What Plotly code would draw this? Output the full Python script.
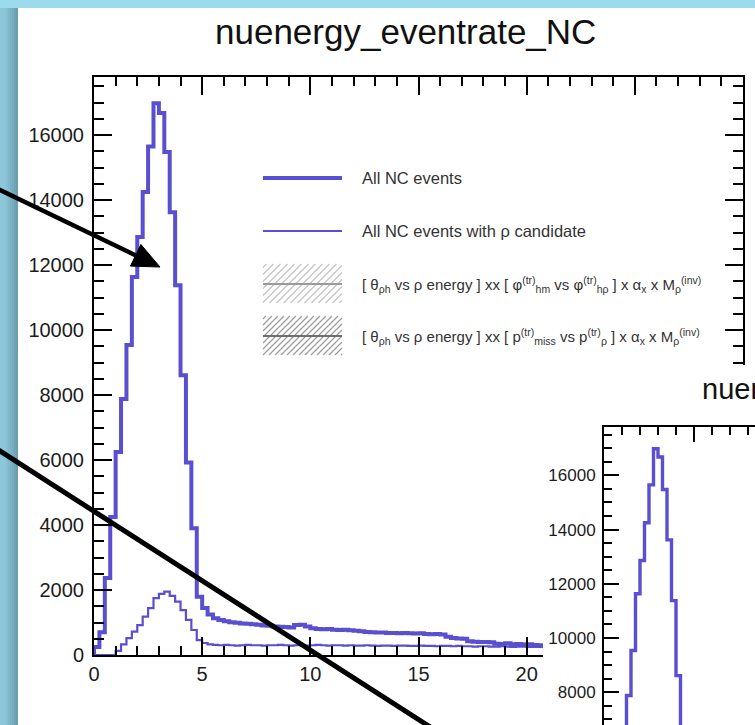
import plotly.graph_objects as go

# Canvas size in pixels; shapes/annotations are placed with pixel helpers.
W, H = 755, 725


def fx(x):
    return x / W


def fy(y):
    return 1 - y / H


# ---------------------------------------------------------------- data
title_text = "nuenergy_eventrate_NC"
bin_width = 0.25  # GeV per bin, histogram starts at 0

# All NC events (bin contents, bins of 0.25 starting at 0)
all_nc = [
    250, 700, 2370, 4250, 6250, 7880, 9540, 11630, 12860, 14250,
    15650, 16980, 16680, 15480, 13620, 11380, 8610, 5920, 3900, 1790,
    1450, 1250, 1130, 1080, 1040, 1010, 990, 970, 960, 950,
    930, 910, 900, 880, 870, 860, 850, 920, 930, 880,
    820, 800, 790, 800, 780, 770, 780, 760, 750, 730,
    710, 700, 690, 690, 680, 680, 670, 680, 670, 660,
    670, 650, 640, 650, 630, 560, 520, 510, 500, 420,
    410, 400, 400, 390, 350, 340, 360, 330, 340, 320,
    330, 310, 300, 300, 290,
]

# All NC events with a rho candidate
all_nc_rho = [
    0, 0, 0, 0, 130, 330, 520, 720, 920, 1180,
    1440, 1750, 1880, 1950, 1820, 1640, 1380, 1080, 770, 460,
    370, 330, 310, 300, 310, 300, 290, 300, 310, 300,
    300, 290, 300, 300, 310, 300, 290, 300, 300, 290,
    300, 310, 300, 290, 300, 300, 290, 300, 290, 290,
    300, 290, 280, 290, 290, 280, 290, 290, 280, 280,
    290, 280, 280, 270, 280, 280, 270, 280, 270, 270,
    260, 270, 270, 260, 260, 270, 260, 250, 260, 260,
    250, 250, 250, 240, 240,
]

x_ticks = [0, 5, 10, 15, 20, 25, 30]
x_ticklabels = ["0", "5", "10", "15", "20", "25", "30"]
y_ticks = [0, 2000, 4000, 6000, 8000, 10000, 12000, 14000, 16000]
y_ticklabels = ["0", "2000", "4000", "6000", "8000", "10000", "12000", "14000", "16000"]

legend_labels = [
    "All NC events",
    "All NC events with ρ candidate",
    "[ θ<sub>ρh</sub> vs ρ energy ] xx [ φ<sup>(tr)</sup><sub>hm</sub> vs "
    "φ<sup>(tr)</sup><sub>hρ</sub> ] x α<sub>x</sub> x M<sub>ρ</sub><sup>(inv)</sup>",
    "[ θ<sub>ρh</sub> vs ρ energy ] xx [ p<sup>(tr)</sup><sub>miss</sub> vs "
    "p<sup>(tr)</sup><sub>ρ</sub> ] x α<sub>x</sub> x M<sub>ρ</sub><sup>(inv)</sup>",
]
legend_sizes = [16.5, 16.5, 15, 15]

# ---------------------------------------------------------------- style
HIST_COLOR = "#5a4fd0"
FONT = "Liberation Sans, Arial, sans-serif"
TEXT = "#1c1c1c"


def step_xy(vals):
    xs = [0.0] + [i * bin_width for i in range(len(vals) + 1)]
    ys = [0.0] + list(vals) + [vals[-1]]
    return xs, ys


fig = go.Figure()

# main pad histograms
for vals, width in ((all_nc, 4), (all_nc_rho, 2.2)):
    xs, ys = step_xy(vals)
    fig.add_trace(go.Scatter(x=xs, y=ys, mode="lines", line=dict(color=HIST_COLOR, width=width, shape="hv"),
                             xaxis="x", yaxis="y", hoverinfo="skip"))

# blank pad that carries the white backing of the second canvas
fig.add_trace(go.Scatter(x=[], y=[], xaxis="x2", yaxis="y2", hoverinfo="skip"))

# second canvas histograms
for vals, width in ((all_nc, 3.4), (all_nc_rho, 1.8)):
    xs, ys = step_xy(vals)
    fig.add_trace(go.Scatter(x=xs, y=ys, mode="lines", line=dict(color=HIST_COLOR, width=width, shape="hv"),
                             xaxis="x3", yaxis="y3", hoverinfo="skip"))


def axis_common(ticklen, size, standoff):
    return dict(showline=True, linecolor="black", linewidth=2, ticks="inside", ticklen=ticklen,
                tickwidth=2, tickcolor="black", showgrid=False, zeroline=False, automargin=False,
                tickfont=dict(family=FONT, size=size, color=TEXT), ticklabelstandoff=standoff)


main_x = axis_common(18, 20, 0)
main_x.update(domain=[fx(94), fx(743)], range=[0, 30], anchor="y", mirror="ticks",
              tickmode="array", tickvals=x_ticks, ticktext=x_ticklabels,
              minor=dict(dtick=1, tick0=0, ticklen=9, tickwidth=2, tickcolor="black", ticks="inside"))
main_y = axis_common(18, 20, 4)
main_y.update(domain=[fy(655), fy(77)], range=[0, 17785], anchor="x", mirror="ticks",
              tickmode="array", tickvals=y_ticks, ticktext=y_ticklabels,
              minor=dict(dtick=500, tick0=0, ticklen=10, tickwidth=2, tickcolor="black", ticks="inside"))

inset_x = axis_common(15, 17, 3)
inset_x.update(domain=[fx(604), 1], range=[0, 151 / 18.0], anchor="y3", side="top",
               showticklabels=False, tickmode="array", tickvals=x_ticks,
               minor=dict(dtick=1, tick0=0, ticklen=8, tickwidth=2, tickcolor="black", ticks="inside"))
inset_y = axis_common(15, 17, 3)
inset_y.update(domain=[0, fy(427)], range=[6789, 17785], anchor="x3",
               tickmode="array", tickvals=y_ticks, ticktext=y_ticklabels,
               minor=dict(dtick=500, tick0=0, ticklen=8, tickwidth=2, tickcolor="black", ticks="inside"))

fig.update_layout(
    width=W, height=H, autosize=False, margin=dict(l=0, r=0, t=0, b=0, pad=0, autoexpand=False),
    paper_bgcolor="#9cdaed", plot_bgcolor="white", showlegend=False,
    xaxis=main_x, yaxis=main_y,
    xaxis2=dict(domain=[fx(543), 1], range=[0, 1], anchor="y2", visible=False, automargin=False),
    yaxis2=dict(domain=[0, fy(365)], range=[0, 1], anchor="x2", visible=False, automargin=False),
    xaxis3=inset_x, yaxis3=inset_y,
)

shapes = []
# slide page and its left shadow
shapes.append(dict(type="rect", xref="paper", yref="paper", x0=0, x1=fx(18), y0=0, y1=fy(8),
                   fillcolor="#8cc6d8", line=dict(width=0), layer="below"))
for i, a in enumerate([0.05, 0.1, 0.16, 0.22, 0.28, 0.34]):
    shapes.append(dict(type="rect", xref="paper", yref="paper", x0=fx(6 + 2 * i), x1=fx(8 + 2 * i),
                       y0=0, y1=fy(8), fillcolor=f"rgba(40,80,100,{a})", line=dict(width=0), layer="below"))
shapes.append(dict(type="rect", xref="paper", yref="paper", x0=fx(18), x1=1, y0=0, y1=fy(8),
                   fillcolor="white", line=dict(width=0), layer="below"))

# legend samples
LX0, LX1, LTX = 263, 342, 360
rows = [178, 231, 284, 336]
shapes.append(dict(type="line", xref="paper", yref="paper", x0=fx(LX0), x1=fx(LX1), y0=fy(rows[0]), y1=fy(rows[0]),
                   line=dict(color=HIST_COLOR, width=4), layer="above"))
shapes.append(dict(type="line", xref="paper", yref="paper", x0=fx(LX0), x1=fx(LX1), y0=fy(rows[1]), y1=fy(rows[1]),
                   line=dict(color=HIST_COLOR, width=2), layer="above"))


def hatch_path(x0, x1, y0, y1, step):
    parts = []
    c = x0 + y0 + step / 2
    while c < x1 + y1:
        xa = max(x0, c - y1)
        xb = min(x1, c - y0)
        if xb > xa:
            parts.append(f"M{fx(xa):.5f},{fy(c - xa):.5f} L{fx(xb):.5f},{fy(c - xb):.5f}")
        c += step
    return " ".join(parts)


for (cy, hcol, lcol, stp) in ((rows[2], "#c4c4c4", "#9a9a9a", 7), (rows[3], "#9c9c9c", "#6e6e6e", 6)):
    shapes.append(dict(type="path", xref="paper", yref="paper", path=hatch_path(LX0, LX1, cy - 20, cy + 19, stp),
                       line=dict(color=hcol, width=1.2), layer="above"))
    shapes.append(dict(type="line", xref="paper", yref="paper", x0=fx(LX0), x1=fx(LX1), y0=fy(cy), y1=fy(cy),
                       line=dict(color=lcol, width=2), layer="above"))

# black pointer lines on the slide
tail, tip = (0, 190), (160, 267)
dx, dy = tip[0] - tail[0], tip[1] - tail[1]
ln = (dx * dx + dy * dy) ** 0.5
ux, uy = dx / ln, dy / ln
head_len, head_w = 27, 12
bx, by = tip[0] - head_len * ux, tip[1] - head_len * uy
shapes.append(dict(type="line", xref="paper", yref="paper", x0=fx(tail[0] - 5), y0=fy(tail[1] - 5 * uy / ux),
                   x1=fx(bx + 2 * ux), y1=fy(by + 2 * uy), line=dict(color="black", width=4.5), layer="above"))
p1 = (bx - head_w * uy, by + head_w * ux)
p2 = (bx + head_w * uy, by - head_w * ux)
shapes.append(dict(type="path", xref="paper", yref="paper",
                   path=f"M{fx(tip[0])},{fy(tip[1])} L{fx(p1[0])},{fy(p1[1])} L{fx(p2[0])},{fy(p2[1])} Z",
                   fillcolor="black", line=dict(color="black", width=1), layer="above"))
shapes.append(dict(type="line", xref="paper", yref="paper", x0=fx(-5), y0=fy(451 - 5 * 0.637),
                   x1=fx(437), y1=fy(725 + 10 * 0.637), line=dict(color="black", width=5), layer="above"))

annotations = [
    dict(text=title_text, x=fx(405), y=fy(31), xref="paper", yref="paper", xanchor="center", yanchor="middle",
         showarrow=False, font=dict(family=FONT, size=35, color="#111111")),
    dict(text=title_text, x=fx(700), y=fy(389), xref="paper", yref="paper", xanchor="left", yanchor="middle",
         showarrow=False, font=dict(family=FONT, size=29, color="#111111")),
]
for cy, lab, sz in zip(rows, legend_labels, legend_sizes):
    annotations.append(dict(text=lab, x=fx(LTX), y=fy(cy), xref="paper", yref="paper", xanchor="left",
                            yanchor="middle", showarrow=False, font=dict(family=FONT, size=sz, color="#333333")))

fig.update_layout(shapes=shapes, annotations=annotations)
fig.write_html("out.html")
